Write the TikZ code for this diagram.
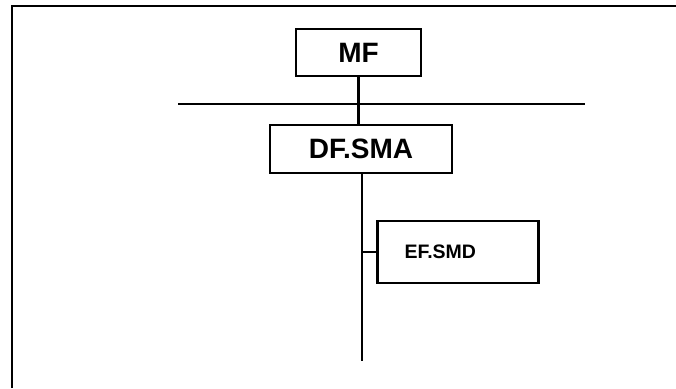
\documentclass[tikz,border=0pt]{standalone}
\usepackage{fontspec}
\setmainfont{Liberation Sans}
\usetikzlibrary{positioning}

\begin{document}
\begin{tikzpicture}[
    x=1pt,y=-1pt,
    line width=2.5pt,
    filebox/.style={rectangle,draw,line width=2.2pt,inner sep=0pt,font=\bfseries},
    bigfile/.style={filebox,font=\fontsize{28}{30}\selectfont\bfseries},
    smallfile/.style={filebox,font=\fontsize{19.5}{22}\selectfont\bfseries}
]
\useasboundingbox (0,0) rectangle (676,388);
% outer frame
\draw[line width=2.5pt] (12,388) -- (12,6) -- (676,6);
\node[bigfile,minimum width=125pt,minimum height=47pt] (MF) at (358.5,52.5) {MF};
\node[bigfile,minimum width=182pt,minimum height=48pt] (DF) at (361,149) {DF.SMA};
\node[smallfile,minimum height=62pt,text width=107pt,inner xsep=27pt,align=left] (EF) at (458,252) {EF.SMD};
\coordinate (busL) at (178,104);
\coordinate (busR) at (585,104);
\coordinate (DFend) at (362,361);
\draw (busL) -- (busR);
\draw (MF.south) -- (MF.south |- DF.north);
\draw (DFend |- DF.south) -- (DFend);
\draw (EF.west) -- (EF.west -| DFend);
\end{tikzpicture}
\end{document}
